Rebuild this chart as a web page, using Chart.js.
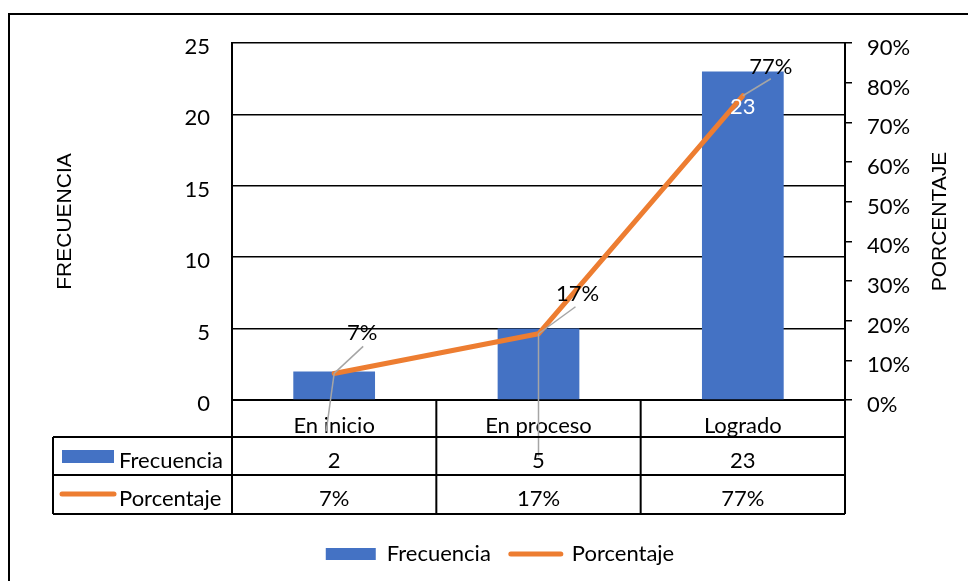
<!DOCTYPE html>
<html><head><meta charset="utf-8">
<script src="https://cdn.jsdelivr.net/npm/chart.js@4/dist/chart.umd.min.js"></script>
<style>html,body{margin:0;padding:0;background:#fff}</style>
</head><body>
<canvas id="c" width="968" height="581"></canvas>
<script>
// ---- data ----
const categories = ['En inicio', 'En proceso', 'Logrado'];
const frecuencia = [2, 5, 23];
const porcentaje = [0.067, 0.167, 0.767];
const leftTicks = [0, 5, 10, 15, 20, 25];
const rightTicks = [0, 0.1, 0.2, 0.3, 0.4, 0.5, 0.6, 0.7, 0.8, 0.9];
const seriesNames = ['Frecuencia', 'Porcentaje'];
const axisTitles = ['FRECUENCIA', 'PORCENTAJE'];

// ---- styles ----
const BLUE = '#4472C4', ORANGE = '#ED7D31', GREY = '#A5A5A5';
const FONT = 'Lato, "Noto Sans", sans-serif';
const FS = 22;
const TITLE_FONT = '"Liberation Sans", Arial, sans-serif';
const pct = v => Math.round(v * 100) + '%';
const LEGEND_BOTTOM = 6;
// label offsets (relative to the marks)
const lineLabelOffsets = [
  { tx: 28, ty: -41, lx: 29, ly: -27 },
  { tx: 39, ty: -40, lx: 37, ly: -27 },
  { tx: 28, ty: -29, lx: 28, ly: -17 }
];
const barLeaders = [{ lx: -8, ly: 60 }, { lx: 0, ly: 128 }, null];

const bgPlugin = {
  id: 'bg',
  beforeDraw(chart) {
    const ctx = chart.ctx;
    ctx.save();
    ctx.fillStyle = '#fff';
    ctx.fillRect(0, 0, chart.width, chart.height);
    ctx.strokeStyle = '#000';
    ctx.lineWidth = 2;
    ctx.strokeRect(9, 14, 1200, 1200);
    ctx.restore();
  }
};

const labelPlugin = {
  id: 'labels',
  afterDatasetsDraw(chart) {
    const ctx = chart.ctx;
    ctx.save();
    const barMeta = chart.getDatasetMeta(0);
    const lineMeta = chart.getDatasetMeta(1);
    ctx.strokeStyle = GREY;
    ctx.lineWidth = 1.5;
    barMeta.data.forEach((b, i) => {
      const o = barLeaders[i];
      if (!o) return;
      const p = lineMeta.data[i];
      ctx.beginPath();
      ctx.moveTo(p.x, p.y);
      ctx.lineTo(p.x + o.lx, b.y + o.ly);
      ctx.stroke();
    });
    ctx.font = FS + 'px ' + FONT;
    ctx.textAlign = 'center';
    ctx.textBaseline = 'middle';
    lineMeta.data.forEach((p, i) => {
      const o = lineLabelOffsets[i];
      ctx.beginPath();
      ctx.moveTo(p.x, p.y);
      ctx.lineTo(p.x + o.lx, p.y + o.ly);
      ctx.stroke();
      ctx.fillStyle = '#000';
      ctx.fillText(pct(porcentaje[i]), p.x + o.tx, p.y + o.ty);
    });
    const b = barMeta.data[2];
    ctx.fillStyle = '#fff';
    ctx.fillText(String(frecuencia[2]), b.x, b.y + 35);
    ctx.restore();
  }
};

const tablePlugin = {
  id: 'table',
  afterDraw(chart) {
    const ctx = chart.ctx, ca = chart.chartArea, xs = chart.scales.x;
    const n = categories.length;
    const colW = (ca.right - ca.left) / n;
    const rowH = 38;
    const leftX = 53;
    const y0 = ca.bottom, y1 = y0 + 37, y2 = y1 + rowH, y3 = y2 + rowH + 1;
    ctx.save();
    ctx.strokeStyle = '#000';
    ctx.lineWidth = 2;
    ctx.beginPath();
    [y1, y2, y3].forEach(y => { ctx.moveTo(leftX, y); ctx.lineTo(ca.right, y); });
    ctx.moveTo(leftX, y1); ctx.lineTo(leftX, y3);
    for (let i = 0; i <= n; i++) {
      const x = ca.left + colW * i;
      ctx.moveTo(x, y0); ctx.lineTo(x, y3);
    }
    ctx.stroke();
    // keys
    ctx.fillStyle = BLUE;
    ctx.fillRect(62, y1 + rowH / 2 - 6, 52, 13);
    ctx.strokeStyle = ORANGE;
    ctx.lineWidth = 5;
    ctx.lineCap = 'round';
    ctx.beginPath();
    ctx.moveTo(62, y2 + rowH / 2);
    ctx.lineTo(114, y2 + rowH / 2);
    ctx.stroke();
    ctx.fillStyle = '#000';
    ctx.font = FS + 'px ' + FONT;
    ctx.textBaseline = 'middle';
    ctx.textAlign = 'left';
    ctx.fillText(seriesNames[0], 119, y1 + rowH / 2 + 5);
    ctx.fillText(seriesNames[1], 119, y2 + rowH / 2 + 5);
    ctx.textAlign = 'center';
    categories.forEach((c, i) => {
      const x = xs.getPixelForValue(i);
      ctx.fillText(String(frecuencia[i]), x, y1 + rowH / 2 + 5);
      ctx.fillText(pct(porcentaje[i]), x, y2 + rowH / 2 + 5);
    });
    // axis titles
    ctx.font = '21px ' + TITLE_FONT;
    const cy = (ca.top + ca.bottom) / 2;
    [[65, axisTitles[0]], [940, axisTitles[1]]].forEach(([x, t]) => {
      ctx.save();
      ctx.translate(x, cy);
      ctx.rotate(-Math.PI / 2);
      ctx.fillText(t, 0, 0);
      ctx.restore();
    });
    ctx.restore();
  }
};

new Chart(document.getElementById('c'), {
  data: {
    labels: categories,
    datasets: [
      {
        type: 'bar', label: seriesNames[0], data: frecuencia,
        backgroundColor: BLUE, yAxisID: 'y', order: 2,
        barPercentage: 0.4, categoryPercentage: 1
      },
      {
        type: 'line', label: seriesNames[1], data: porcentaje,
        borderColor: ORANGE, backgroundColor: ORANGE, borderWidth: 5,
        pointRadius: 0, tension: 0, yAxisID: 'y1', order: 1,
        borderCapStyle: 'round', borderJoinStyle: 'round'
      }
    ]
  },
  options: {
    responsive: false,
    animation: false,
    devicePixelRatio: 1,
    layout: { padding: { left: 32, top: 43, right: 0, bottom: LEGEND_BOTTOM } },
    plugins: {
      tooltip: { enabled: false },
      legend: {
        position: 'bottom',
        labels: {
          usePointStyle: true, pointStyleWidth: 50, boxHeight: 12,
          padding: 20, color: '#000', font: { family: FONT, size: FS },
          generateLabels: chart => chart.data.datasets.map((ds, i) => ({
            text: ds.label, datasetIndex: i, hidden: false,
            fillStyle: ds.type === 'line' ? ds.borderColor : ds.backgroundColor,
            strokeStyle: ds.type === 'line' ? ds.borderColor : ds.backgroundColor,
            lineWidth: ds.type === 'line' ? 5 : 0,
            lineCap: 'round',
            pointStyle: ds.type === 'line' ? 'line' : 'rect',
            fontColor: '#000'
          }))
        }
      }
    },
    scales: {
      x: {
        grid: { display: false },
        border: { display: true, color: '#000', width: 2 },
        ticks: { color: '#000', font: { family: FONT, size: FS }, padding: 5 },
        afterFit: s => { s.height = 181 - LEGEND_BOTTOM - (s.chart.legend ? s.chart.legend.height : 0); }
      },
      y: {
        position: 'left', min: 0, max: 25,
        afterBuildTicks: s => { s.ticks = leftTicks.map(v => ({ value: v })); },
        grid: { color: '#000', lineWidth: 1.5, drawTicks: false },
        border: { display: true, color: '#000', width: 2 },
        ticks: { color: '#000', font: { family: FONT, size: FS }, padding: 22, labelOffset: 4 },
        afterFit: s => { s.width = 200; }
      },
      y1: {
        position: 'right', min: 0, max: 0.9,
        afterBuildTicks: s => { s.ticks = rightTicks.map(v => ({ value: v })); },
        grid: { drawOnChartArea: false, color: '#000', lineWidth: 1.5, tickLength: 7 },
        border: { display: true, color: '#000', width: 2 },
        ticks: { color: '#000', font: { family: FONT, size: FS }, padding: 15, labelOffset: 5, callback: v => pct(v) },
        afterFit: s => { s.width = 123; }
      }
    }
  },
  plugins: [bgPlugin, labelPlugin, tablePlugin]
});
</script>
</body></html>
